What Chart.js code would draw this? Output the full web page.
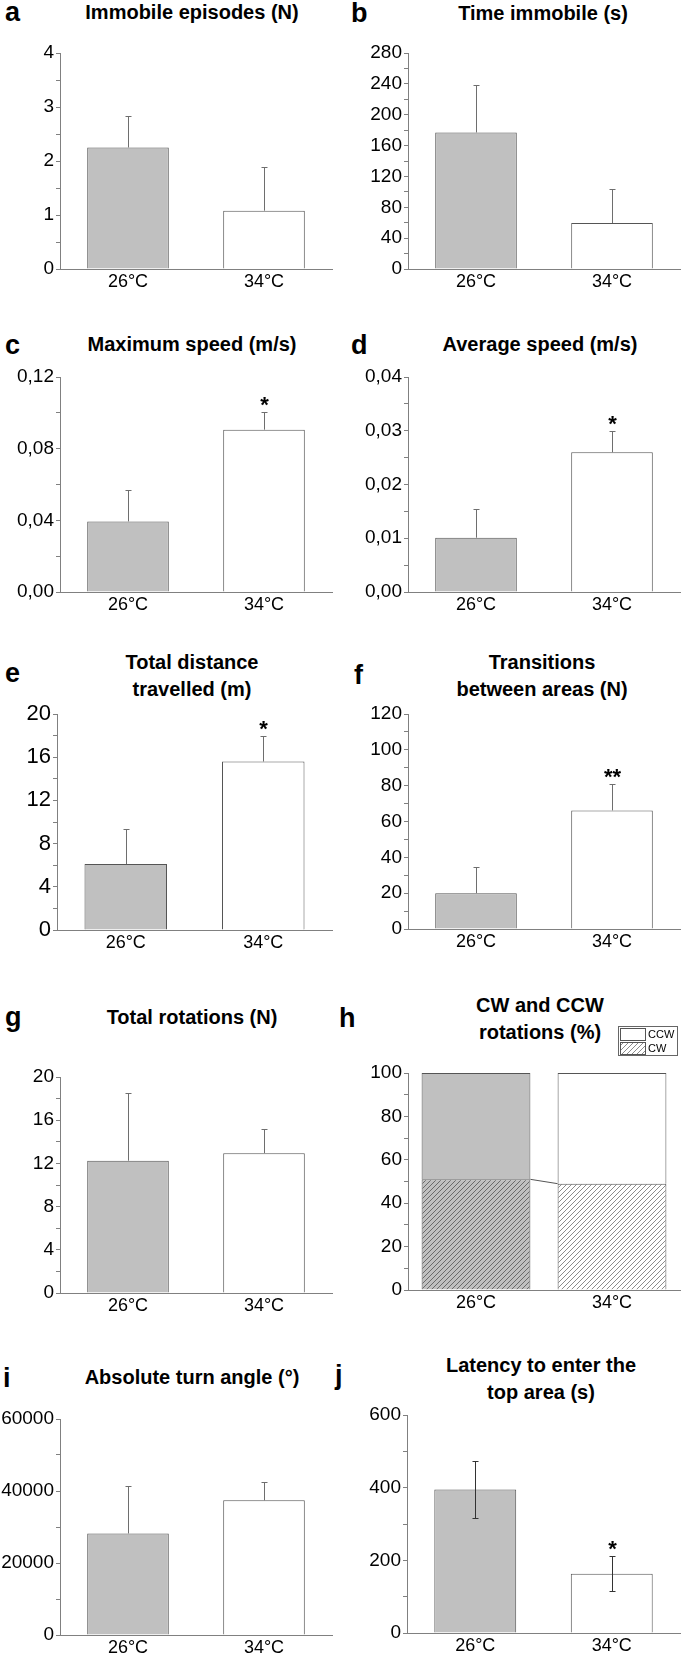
<!DOCTYPE html>
<html>
<head>
<meta charset="utf-8">
<script src="https://cdn.jsdelivr.net/npm/chart.js@4.4.0/dist/chart.umd.min.js"></script>
<style>
  body { margin: 0; width: 685px; height: 1653px; overflow: hidden; background: #fff; position: relative; font-family: "Liberation Sans", Arial, sans-serif; }
  canvas { position: absolute; }
  .title { position: absolute; font-weight: bold; font-size: 20px; line-height: 27px; text-align: center; white-space: nowrap; transform: translateX(-50%); color: #000; }
  .letter { position: absolute; font-weight: bold; font-size: 27px; line-height: 27px; color: #000; }
</style>
</head>
<body>

<div class="letter" style="left:5px;top:-1px">a</div>
<div class="title" style="left:192px;top:-1px">Immobile episodes (N)</div>
<canvas id="chartA" width="335" height="260" style="left:0px;top:37px"></canvas>

<div class="letter" style="left:351px;top:0px">b</div>
<div class="title" style="left:543px;top:0px">Time immobile (s)</div>
<canvas id="chartB" width="335" height="260" style="left:348px;top:37px"></canvas>

<div class="letter" style="left:5px;top:332px">c</div>
<div class="title" style="left:192px;top:331px">Maximum speed (m/s)</div>
<canvas id="chartC" width="335" height="259" style="left:0px;top:361px"></canvas>

<div class="letter" style="left:351px;top:332px">d</div>
<div class="title" style="left:540px;top:331px">Average speed (m/s)</div>
<canvas id="chartD" width="335" height="259" style="left:348px;top:361px"></canvas>

<div class="letter" style="left:5px;top:660px">e</div>
<div class="title" style="left:192px;top:649px">Total distance<br>travelled (m)</div>
<canvas id="chartE" width="335" height="260" style="left:0px;top:698px"></canvas>

<div class="letter" style="left:354px;top:662px">f</div>
<div class="title" style="left:542px;top:649px">Transitions<br>between areas (N)</div>
<canvas id="chartF" width="335" height="259" style="left:348px;top:698px"></canvas>

<div class="letter" style="left:5px;top:1004px">g</div>
<div class="title" style="left:192px;top:1004px">Total rotations (N)</div>
<canvas id="chartG" width="335" height="260" style="left:0px;top:1061px"></canvas>

<div class="letter" style="left:339px;top:1005px">h</div>
<div class="title" style="left:540px;top:992px">CW and CCW<br>rotations (%)</div>
<canvas id="chartH" width="335" height="295" style="left:348px;top:1023px"></canvas>

<div class="letter" style="left:3px;top:1365px">i</div>
<div class="title" style="left:192px;top:1364px">Absolute turn angle (°)</div>
<canvas id="chartI" width="335" height="260" style="left:0px;top:1403px"></canvas>

<div class="letter" style="left:335px;top:1362px">j</div>
<div class="title" style="left:541px;top:1352px">Latency to enter the<br>top area (s)</div>
<canvas id="chartJ" width="336" height="262" style="left:347px;top:1399px"></canvas>

<script>
// group labels
var categories = ['26°C', '34°C'];

// means and SEM
var immobileEpisodes = [2.25, 1.08];
var immobileEpisodesSem = [0.59, 0.80];

var timeImmobile = [177, 59.5];
var timeImmobileSem = [61.5, 44.5];

var maxSpeed = [0.0394, 0.0906];
var maxSpeedSem = [0.0173, 0.0097];

var avgSpeed = [0.0101, 0.026];
var avgSpeedSem = [0.0054, 0.004];

var totalDistance = [6.1, 15.6];
var totalDistanceSem = [3.25, 2.4];

var transitions = [20, 66.2];
var transitionsSem = [14.6, 14.9];

var totalRotations = [12.25, 12.95];
var totalRotationsSem = [6.25, 2.2];

var cwPercent = [51, 49];
var ccwPercent = [49, 51];

var turnAngle = [28200, 37400];
var turnAngleSem = [13250, 5200];

var latencyTop = [395, 163];
var latencyTopSem = [79, 48];

// significance marks
var starsOneSided = ['', '*'];
var starsTwo = ['', '**'];

var FONT = '"Liberation Sans", Arial, sans-serif';
var AXIS = '#808080';
var EDGE = '#555555';
var GREY = '#c0c0c0';

Chart.defaults.animation = false;
Chart.defaults.font.family = FONT;

// error bars and stars on top of the bars
var errorBarsPlugin = {
  id: 'errorBars',
  afterDatasetsDraw: function (chart, args, opts) {
    if (!opts.sem) return;
    var ctx = chart.ctx;
    var yScale = chart.scales.y;
    var meta = chart.getDatasetMeta(0);
    var values = chart.data.datasets[0].data;
    ctx.save();
    ctx.strokeStyle = opts.color;
    ctx.lineWidth = 1;
    meta.data.forEach(function (bar, i) {
      var x = Math.round(bar.x) + 0.5;
      var top = Math.round(yScale.getPixelForValue(values[i] + opts.sem[i])) + 0.5;
      var bottom = opts.twoSided ? Math.round(yScale.getPixelForValue(values[i] - opts.sem[i])) + 0.5 : bar.y;
      ctx.beginPath();
      ctx.moveTo(x, bottom);
      ctx.lineTo(x, top);
      ctx.moveTo(x - 3, top);
      ctx.lineTo(x + 3, top);
      if (opts.twoSided) {
        ctx.moveTo(x - 3, bottom);
        ctx.lineTo(x + 3, bottom);
      }
      ctx.stroke();
      if (opts.stars && opts.stars[i]) {
        ctx.fillStyle = '#000';
        ctx.font = 'bold 22px ' + FONT;
        ctx.textAlign = 'center';
        ctx.textBaseline = 'alphabetic';
        ctx.fillText(opts.stars[i], x, top - 1);
      }
    });
    ctx.restore();
  }
};

function makeScales(cfg) {
  return {
    x: {
      offset: true,
      stacked: !!cfg.stacked,
      afterFit: function (scale) { scale.height = 28; },
      grid: { display: false, drawTicks: false },
      border: { color: AXIS },
      ticks: { color: '#000', padding: 2, font: { size: 18 } }
    },
    y: {
      min: 0,
      max: cfg.yMax,
      stacked: !!cfg.stacked,
      afterFit: function (scale) { scale.width = cfg.yAxisW || 60; },
      grid: { drawOnChartArea: false, drawTicks: true, tickLength: 4, tickColor: AXIS },
      border: { color: AXIS },
      ticks: {
        stepSize: cfg.minor,
        maxTicksLimit: 40,
        autoSkip: false,
        padding: 2,
        color: '#000',
        font: { size: cfg.tickSize || 19 },
        callback: function (v) {
          var r = v / cfg.major;
          if (Math.abs(r - Math.round(r)) > 1e-6) return '';
          if (cfg.decimals) return v.toFixed(cfg.decimals).replace('.', ',');
          return String(Math.round(v));
        }
      }
    }
  };
}

function makeBarChart(id, values, sem, cfg) {
  return new Chart(document.getElementById(id).getContext('2d'), {
    type: 'bar',
    data: {
      labels: categories,
      datasets: [{
        data: values,
        backgroundColor: [GREY, '#ffffff'],
        borderColor: EDGE,
        borderWidth: 1,
        barPercentage: 0.6,
        categoryPercentage: 1.0
      }]
    },
    options: {
      responsive: false,
      layout: { padding: { top: 16, right: 3, bottom: 0, left: 0 } },
      scales: makeScales(cfg),
      plugins: {
        legend: { display: false },
        tooltip: { enabled: false },
        errorBars: { sem: sem, stars: cfg.stars, twoSided: !!cfg.twoSided, color: cfg.errColor || '#6e6e6e' }
      }
    },
    plugins: [errorBarsPlugin]
  });
}

makeBarChart('chartA', immobileEpisodes, immobileEpisodesSem, { yMax: 4, minor: 0.5, major: 1 });
makeBarChart('chartB', timeImmobile, timeImmobileSem, { yMax: 280, minor: 20, major: 40 });
makeBarChart('chartC', maxSpeed, maxSpeedSem, { yMax: 0.12, minor: 0.02, major: 0.04, decimals: 2, stars: starsOneSided });
makeBarChart('chartD', avgSpeed, avgSpeedSem, { yMax: 0.04, minor: 0.005, major: 0.01, decimals: 2, stars: starsOneSided });
makeBarChart('chartE', totalDistance, totalDistanceSem, { yMax: 20, minor: 2, major: 4, tickSize: 22, yAxisW: 57, stars: starsOneSided });
makeBarChart('chartF', transitions, transitionsSem, { yMax: 120, minor: 10, major: 20, stars: starsTwo });
makeBarChart('chartG', totalRotations, totalRotationsSem, { yMax: 20, minor: 2, major: 4 });
makeBarChart('chartI', turnAngle, turnAngleSem, { yMax: 60000, minor: 10000, major: 20000 });
makeBarChart('chartJ', latencyTop, latencyTopSem, { yMax: 600, minor: 100, major: 200, twoSided: true, errColor: '#333333', stars: starsOneSided });

// panel h: stacked CW / CCW with hatching
var hCtx = document.getElementById('chartH').getContext('2d');

function makeHatch(bg, line) {
  var tile = document.createElement('canvas');
  tile.width = 5;
  tile.height = 5;
  var g = tile.getContext('2d');
  g.fillStyle = bg;
  g.fillRect(0, 0, 5, 5);
  g.strokeStyle = line;
  g.lineWidth = 1;
  g.beginPath();
  g.moveTo(0, 5); g.lineTo(5, 0);
  g.moveTo(-1, 1); g.lineTo(1, -1);
  g.moveTo(4, 6); g.lineTo(6, 4);
  g.stroke();
  return hCtx.createPattern(tile, 'repeat');
}

var hatchGrey = makeHatch(GREY, '#6a6a6a');
var hatchWhite = makeHatch('#ffffff', '#8c8c8c');

var rotationExtras = {
  id: 'rotationExtras',
  afterDatasetsDraw: function (chart) {
    var ctx = chart.ctx;
    var meta = chart.getDatasetMeta(0);
    var a = meta.data[0];
    var b = meta.data[1];
    ctx.save();
    // connector between the CW tops
    ctx.strokeStyle = EDGE;
    ctx.lineWidth = 1;
    ctx.beginPath();
    ctx.moveTo(a.x + a.width / 2, a.y);
    ctx.lineTo(b.x - b.width / 2, b.y);
    ctx.stroke();

    // small legend box above the plot
    var lx = chart.chartArea.right - 62;
    var ly = chart.chartArea.top - 47;
    ctx.strokeStyle = '#666';
    ctx.strokeRect(lx + 0.5, ly + 0.5, 59, 29);
    ctx.fillStyle = '#ffffff';
    ctx.fillRect(lx + 2, ly + 2, 25, 12);
    ctx.strokeStyle = EDGE;
    ctx.strokeRect(lx + 2.5, ly + 2.5, 25, 12);
    ctx.fillStyle = hatchWhite;
    ctx.fillRect(lx + 2, ly + 16, 25, 12);
    ctx.strokeRect(lx + 2.5, ly + 16.5, 25, 12);
    ctx.fillStyle = '#000';
    ctx.font = '11px ' + FONT;
    ctx.textAlign = 'left';
    ctx.textBaseline = 'middle';
    ctx.fillText('CCW', lx + 30, ly + 9);
    ctx.fillText('CW', lx + 30, ly + 23);
    ctx.restore();
  }
};

var rotationChart = new Chart(hCtx, {
  type: 'bar',
  data: {
    labels: categories,
    datasets: [{
      label: 'CW',
      data: cwPercent,
      backgroundColor: [hatchGrey, hatchWhite],
      borderColor: EDGE,
      borderWidth: 1,
      barPercentage: 0.8,
      categoryPercentage: 1.0
    }, {
      label: 'CCW',
      data: ccwPercent,
      backgroundColor: [GREY, '#ffffff'],
      borderColor: EDGE,
      borderWidth: 1,
      barPercentage: 0.8,
      categoryPercentage: 1.0
    }]
  },
  options: {
    responsive: false,
    layout: { padding: { top: 50, right: 3, bottom: 0, left: 0 } },
    scales: makeScales({ yMax: 100, minor: 10, major: 20, stacked: true }),
    plugins: {
      legend: { display: false },
      tooltip: { enabled: false }
    }
  },
  plugins: [rotationExtras]
});
</script>
</body>
</html>
